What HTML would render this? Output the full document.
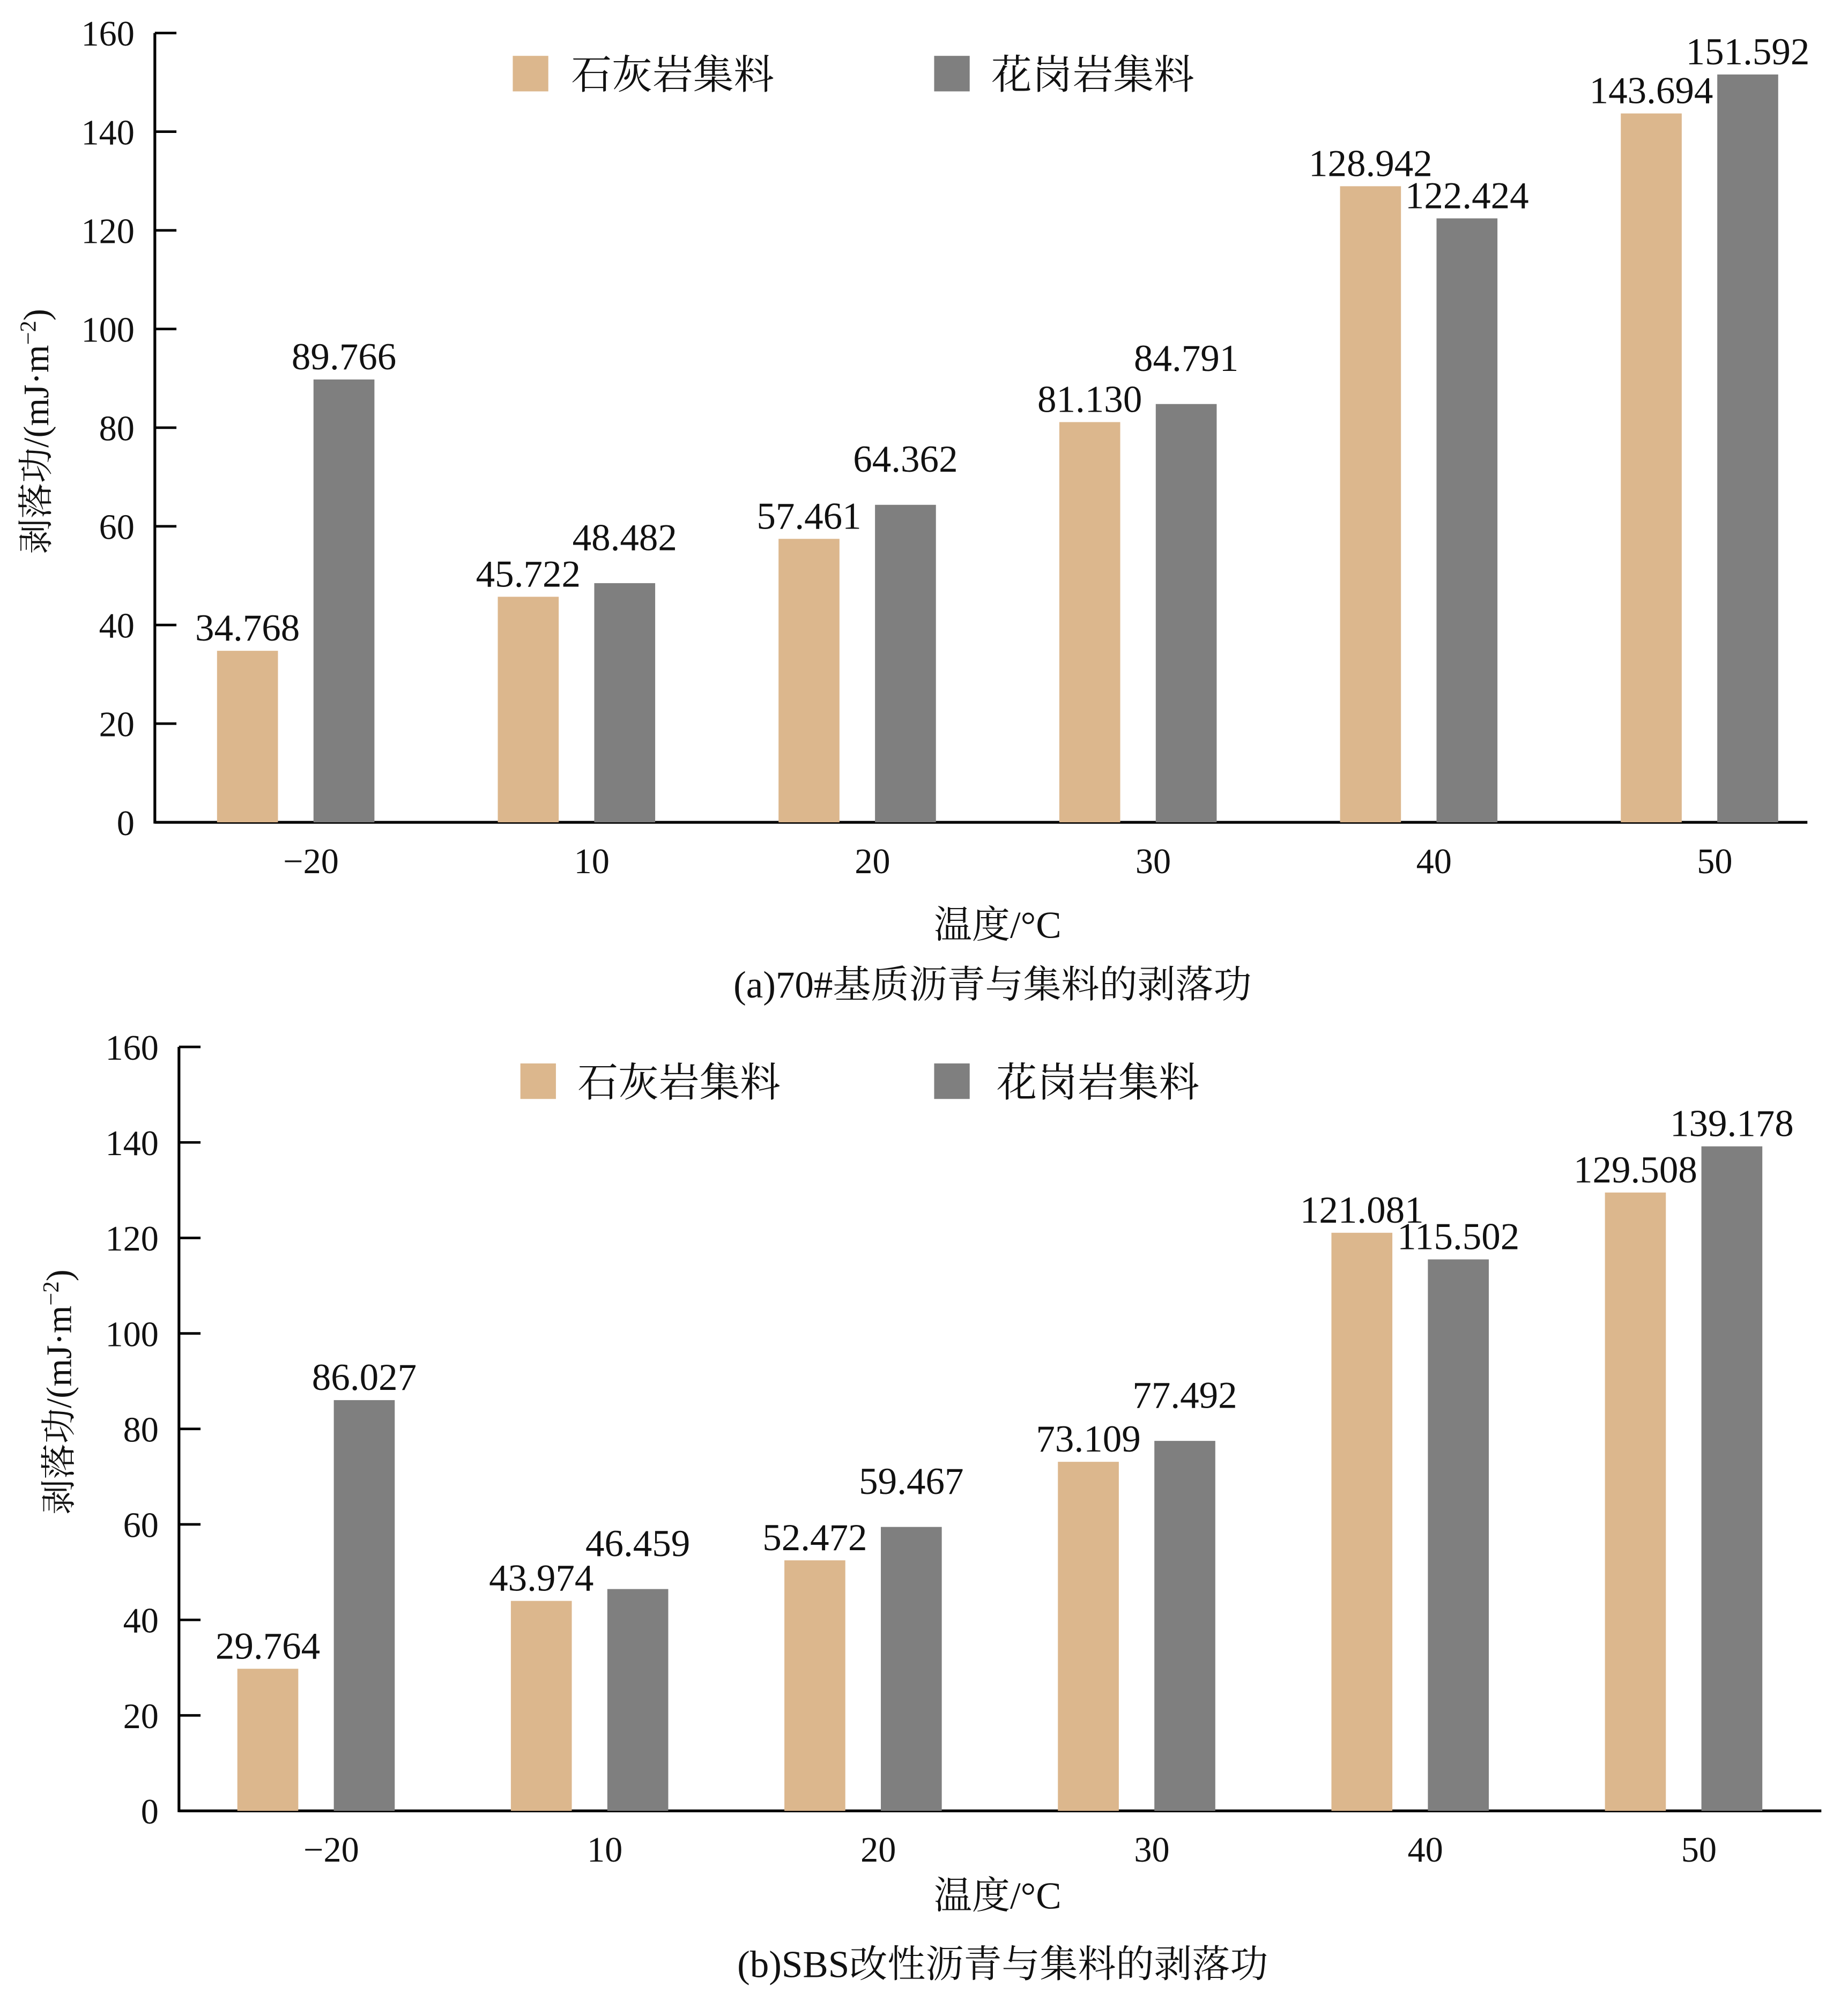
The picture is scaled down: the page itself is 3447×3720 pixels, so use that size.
<!DOCTYPE html>
<html><head><meta charset="utf-8"><style>
html,body{margin:0;padding:0;background:#fff}
svg{display:block}
text{font-family:"Liberation Serif","Noto Serif CJK SC",serif;fill:#111}
</style></head><body>
<svg id="svg" width="3447" height="3720" viewBox="0 0 1456 1571.3" xmlns="http://www.w3.org/2000/svg"></svg>
<script>
const categories = ["−20","10","20","30","40","50"];
const limeA = [34.768,45.722,57.461,81.130,128.942,143.694];
const graniteA = [89.766,48.482,64.362,84.791,122.424,151.592];
const limeAL = ["34.768","45.722","57.461","81.130","128.942","143.694"];
const graniteAL = ["89.766","48.482","64.362","84.791","122.424","151.592"];
const limeB = [29.764,43.974,52.472,73.109,121.081,129.508];
const graniteB = [86.027,46.459,59.467,77.492,115.502,139.178];
const limeBL = ["29.764","43.974","52.472","73.109","121.081","129.508"];
const graniteBL = ["86.027","46.459","59.467","77.492","115.502","139.178"];
const yTicks = [0,20,40,60,80,100,120,140,160];
const legendNames = ["石灰岩集料","花岗岩集料"];

const NS="http://www.w3.org/2000/svg";
const svg=document.getElementById('svg');
function mk(tag,attrs,parent,txt){const e=document.createElementNS(NS,tag);for(const k in attrs)e.setAttribute(k,attrs[k]);if(txt!==undefined)e.textContent=txt;(parent||svg).appendChild(e);return e;}

function chart(cfg){
  const g=mk('g',{});
  
  
  const y=v=>cfg.y0-(v/160)*(cfg.y0-cfg.y160);
  const cx=i=>cfg.c0+i*cfg.step;
  const ya=mk('line',{x1:cfg.ax,y1:cfg.y160,x2:cfg.ax,y2:cfg.y0+1,stroke:'#000','stroke-width':2.2},g);
  
  
  const xa=mk('line',{x1:cfg.ax,y1:cfg.y0,x2:cfg.xEnd,y2:cfg.y0,stroke:'#000','stroke-width':2.2},g);
  
  
  yTicks.forEach(t=>{
    const tk=mk('line',{x1:cfg.ax,y1:y(t),x2:cfg.ax+17,y2:y(t),stroke:'#000','stroke-width':2},g);
    
    
    const tl=mk('text',{x:cfg.ax-16,y:y(t)+10,'text-anchor':'end','font-size':28},g,String(t));
    
    
  });
  categories.forEach((c,i)=>{
    const xl=mk('text',{x:cx(i)+12,y:cfg.y0+40,'text-anchor':'middle','font-size':28},g,c);
    
    
    [[cfg.lime,cfg.limeL,-62,'#dcb78d'],[cfg.gran,cfg.granL,14,'#7f7f7f']].forEach(([arr,lab,off,col],s)=>{
      const v=arr[i];
      const b=mk('rect',{x:cx(i)+off,y:y(v),width:48,height:cfg.y0-y(v),fill:col},g);
      
      
      const lift = (s && i>0 && i<4) ? 18 : 0;
      const vl=mk('text',{x:cx(i)+off+24,y:y(v)-8-lift,'text-anchor':'middle','font-size':30},g,lab[i]);
      
      
    });
  });
  cfg.leg.forEach((p,k)=>{
    const sq=mk('rect',{x:p[0],y:cfg.legY,width:28,height:28,fill:k?'#7f7f7f':'#dcb78d'},g);
    
    
    const lt=mk('text',{x:p[1],y:cfg.legY+26,'font-size':32},g,legendNames[k]);
    
    
  });
  const yt=mk('text',{x:0,y:0,'text-anchor':'middle','font-size':28,transform:`translate(${cfg.ytX},${cfg.ytY}) rotate(-90)`},g);
  
  
  yt.innerHTML='剥落功/(mJ·m<tspan dy="-10" font-size="18">−2</tspan><tspan dy="10">)</tspan>';
  const xt=mk('text',{x:cfg.xtX,y:cfg.xtY,'text-anchor':'middle','font-size':30},g,'温度/°C');
  
  
  const ct=mk('text',{x:cfg.ctX,y:cfg.ctY,'text-anchor':'middle','font-size':30},g,cfg.caption);
  
  
}
chart({name:'chart-a',ax:122,y0:648,y160:26,xEnd:1424,c0:233,step:221.2,lime:limeA,limeL:limeAL,gran:graniteA,granL:graniteAL,
  leg:[[404,450],[736,781]],legY:44,ytX:38,ytY:340,xtX:786,xtY:739,ctX:782,ctY:786,caption:'(a)70#基质沥青与集料的剥落功'});
chart({name:'chart-b',ax:141,y0:1427,y160:825,xEnd:1435,c0:249,step:215.5,lime:limeB,limeL:limeBL,gran:graniteB,granL:graniteBL,
  leg:[[410,455],[736,785]],legY:838,ytX:56,ytY:1097,xtX:786,xtY:1504,ctX:790,ctY:1558,caption:'(b)SBS改性沥青与集料的剥落功'});
</script>
</body></html>
